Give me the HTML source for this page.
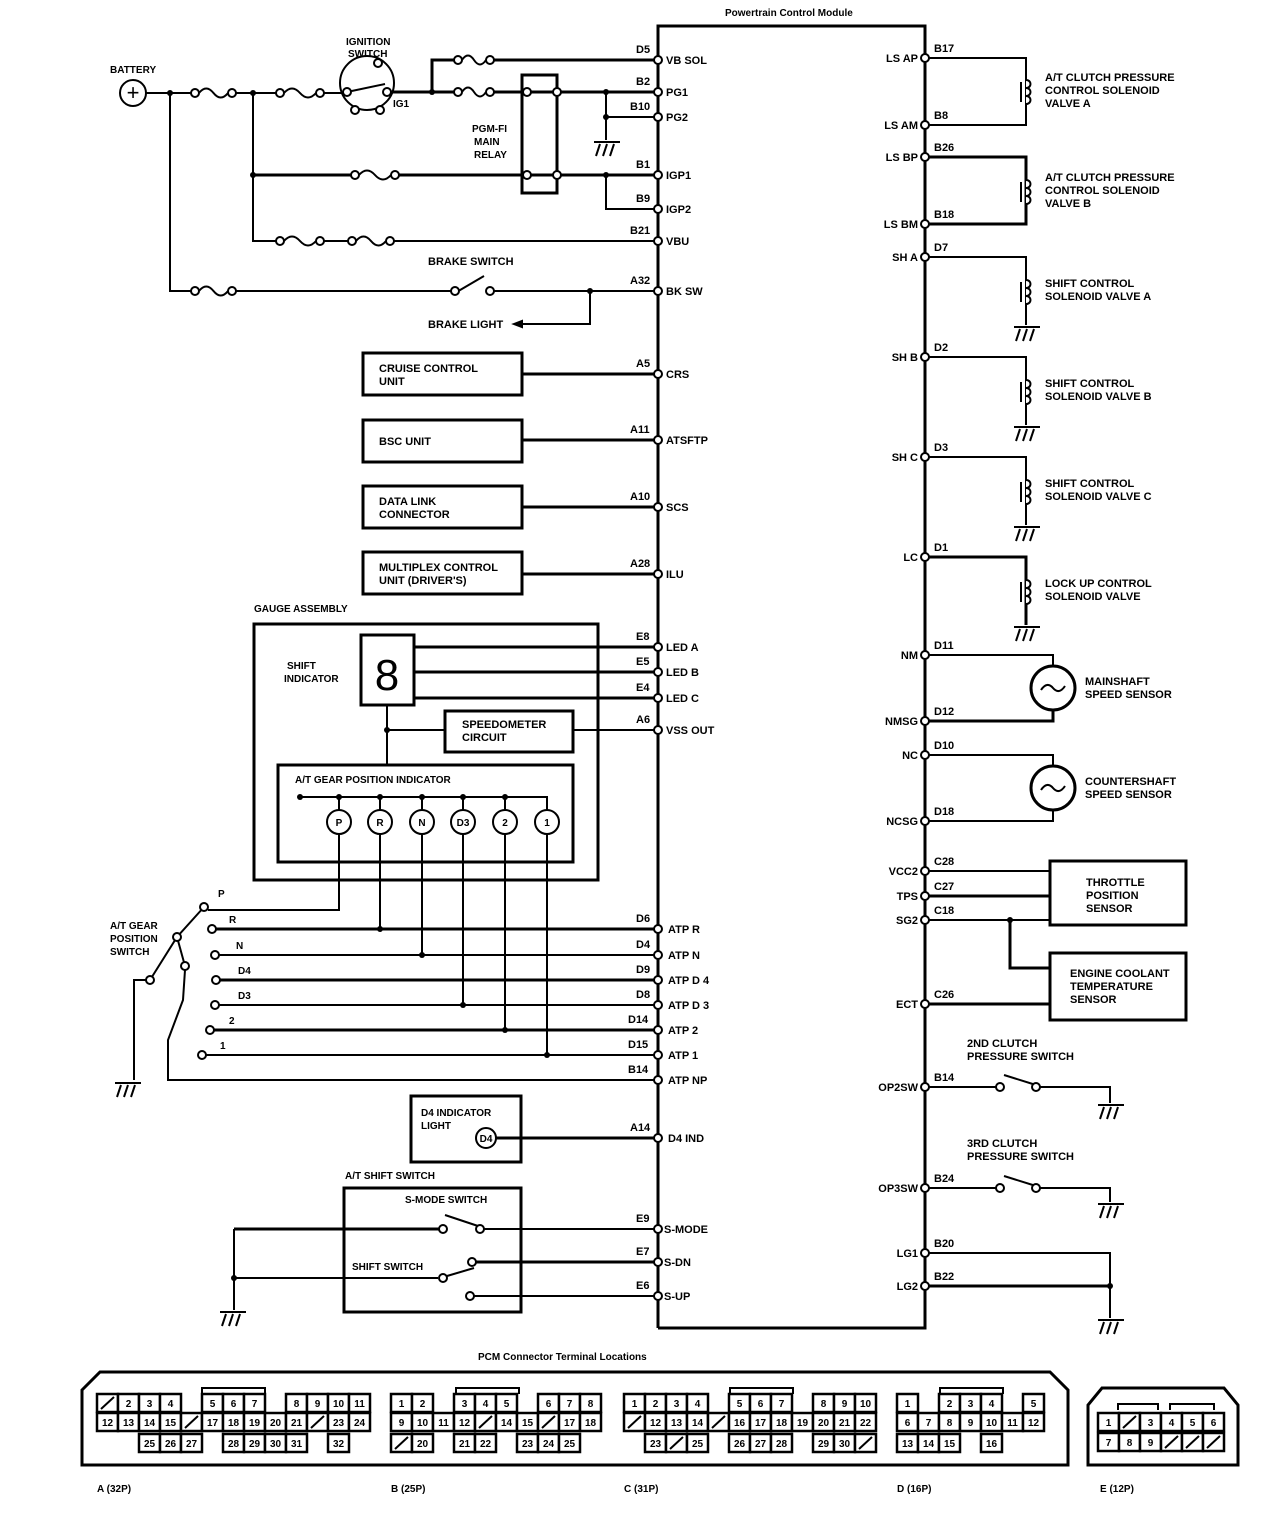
<!DOCTYPE html>
<html><head><meta charset="utf-8"><style>
body{margin:0;background:#fff}
svg{display:block}
text{font-family:"Liberation Sans",sans-serif;font-size:11px;font-weight:bold;fill:#000}
.s{font-size:10px}
</style></head><body>
<svg id="d" width="1280" height="1514" viewBox="0 0 1280 1514" xmlns="http://www.w3.org/2000/svg" fill="none" stroke="#000" stroke-width="2">
<!-- PCM -->
<text x="725" y="16" class="s" stroke="none">Powertrain Control Module</text>
<polyline points="658,1328 658,26 925,26 925,1328 658,1328" stroke-width="3"/>
<!-- indicator circles (static, below text) -->
<circle cx="339" cy="822" r="12" fill="#fff"/><circle cx="380" cy="822" r="12" fill="#fff"/>
<circle cx="422" cy="822" r="12" fill="#fff"/><circle cx="463" cy="822" r="12" fill="#fff"/>
<circle cx="505" cy="822" r="12" fill="#fff"/><circle cx="547" cy="822" r="12" fill="#fff"/>
<line x1="496" y1="1138" x2="656" y2="1138" stroke-width="3"/>
<circle cx="486" cy="1138" r="10" fill="#fff"/>
<!-- left pin labels -->
<g stroke="none">
<text x="666" y="64">VB SOL</text><text x="666" y="96">PG1</text><text x="666" y="121">PG2</text>
<text x="666" y="179">IGP1</text><text x="666" y="213">IGP2</text><text x="666" y="245">VBU</text>
<text x="666" y="295">BK SW</text><text x="666" y="378">CRS</text><text x="666" y="444">ATSFTP</text>
<text x="666" y="511">SCS</text><text x="666" y="578">ILU</text><text x="666" y="651">LED A</text>
<text x="666" y="676">LED B</text><text x="666" y="702">LED C</text><text x="666" y="734">VSS OUT</text>
<text x="668" y="933">ATP R</text><text x="668" y="959">ATP N</text><text x="668" y="984">ATP D 4</text>
<text x="668" y="1009">ATP D 3</text><text x="668" y="1034">ATP 2</text><text x="668" y="1059">ATP 1</text>
<text x="668" y="1084">ATP NP</text><text x="668" y="1142">D4 IND</text><text x="664" y="1233">S-MODE</text>
<text x="664" y="1266">S-DN</text><text x="664" y="1300">S-UP</text>
<text x="636" y="53">D5</text><text x="636" y="85">B2</text><text x="630" y="110">B10</text>
<text x="636" y="168">B1</text><text x="636" y="202">B9</text><text x="630" y="234">B21</text>
<text x="630" y="284">A32</text><text x="636" y="367">A5</text><text x="630" y="433">A11</text>
<text x="630" y="500">A10</text><text x="630" y="567">A28</text><text x="636" y="640">E8</text>
<text x="636" y="665">E5</text><text x="636" y="691">E4</text><text x="636" y="723">A6</text>
<text x="636" y="922">D6</text><text x="636" y="948">D4</text><text x="636" y="973">D9</text>
<text x="636" y="998">D8</text><text x="628" y="1023">D14</text><text x="628" y="1048">D15</text>
<text x="628" y="1073">B14</text><text x="630" y="1131">A14</text><text x="636" y="1222">E9</text>
<text x="636" y="1255">E7</text><text x="636" y="1289">E6</text>
<g text-anchor="end">
<text x="918" y="62">LS AP</text><text x="918" y="129">LS AM</text><text x="918" y="161">LS BP</text>
<text x="918" y="228">LS BM</text><text x="918" y="261">SH A</text><text x="918" y="361">SH B</text>
<text x="918" y="461">SH C</text><text x="918" y="561">LC</text><text x="918" y="659">NM</text>
<text x="918" y="725">NMSG</text><text x="918" y="759">NC</text><text x="918" y="825">NCSG</text>
<text x="918" y="875">VCC2</text><text x="918" y="900">TPS</text><text x="918" y="924">SG2</text>
<text x="918" y="1008">ECT</text><text x="918" y="1091">OP2SW</text><text x="918" y="1192">OP3SW</text>
<text x="918" y="1257">LG1</text><text x="918" y="1290">LG2</text></g>
<text x="934" y="52">B17</text><text x="934" y="119">B8</text><text x="934" y="151">B26</text>
<text x="934" y="218">B18</text><text x="934" y="251">D7</text><text x="934" y="351">D2</text>
<text x="934" y="451">D3</text><text x="934" y="551">D1</text><text x="934" y="649">D11</text>
<text x="934" y="715">D12</text><text x="934" y="749">D10</text><text x="934" y="815">D18</text>
<text x="934" y="865">C28</text><text x="934" y="890">C27</text><text x="934" y="914">C18</text>
<text x="934" y="998">C26</text><text x="934" y="1081">B14</text><text x="934" y="1182">B24</text>
<text x="934" y="1247">B20</text><text x="934" y="1280">B22</text>
<text x="1045" y="81">A/T CLUTCH PRESSURE</text><text x="1045" y="94">CONTROL SOLENOID</text><text x="1045" y="107">VALVE A</text>
<text x="1045" y="181">A/T CLUTCH PRESSURE</text><text x="1045" y="194">CONTROL SOLENOID</text><text x="1045" y="207">VALVE B</text>
<text x="1045" y="287">SHIFT CONTROL</text><text x="1045" y="300">SOLENOID VALVE A</text>
<text x="1045" y="387">SHIFT CONTROL</text><text x="1045" y="400">SOLENOID VALVE B</text>
<text x="1045" y="487">SHIFT CONTROL</text><text x="1045" y="500">SOLENOID VALVE C</text>
<text x="1045" y="587">LOCK UP CONTROL</text><text x="1045" y="600">SOLENOID VALVE</text>
<text x="1085" y="685">MAINSHAFT</text><text x="1085" y="698">SPEED SENSOR</text>
<text x="1085" y="785">COUNTERSHAFT</text><text x="1085" y="798">SPEED SENSOR</text>
<text x="1086" y="886">THROTTLE</text><text x="1086" y="899">POSITION</text><text x="1086" y="912">SENSOR</text>
<text x="1070" y="977">ENGINE COOLANT</text><text x="1070" y="990">TEMPERATURE</text><text x="1070" y="1003">SENSOR</text>
<text x="967" y="1047">2ND CLUTCH</text><text x="967" y="1060">PRESSURE SWITCH</text>
<text x="967" y="1147">3RD CLUTCH</text><text x="967" y="1160">PRESSURE SWITCH</text>
<text x="110" y="73" class="s">BATTERY</text>
<text x="346" y="45" class="s">IGNITION</text><text x="348" y="57" class="s">SWITCH</text>
<text x="393" y="107" class="s">IG1</text>
<text x="472" y="132" class="s">PGM-FI</text><text x="474" y="145" class="s">MAIN</text><text x="474" y="158" class="s">RELAY</text>
<text x="428" y="265">BRAKE SWITCH</text><text x="428" y="328">BRAKE LIGHT</text>
<text x="379" y="372">CRUISE CONTROL</text><text x="379" y="385">UNIT</text>
<text x="379" y="445">BSC UNIT</text>
<text x="379" y="505">DATA LINK</text><text x="379" y="518">CONNECTOR</text>
<text x="379" y="571">MULTIPLEX CONTROL</text><text x="379" y="584">UNIT (DRIVER'S)</text>
<text x="254" y="612" class="s">GAUGE ASSEMBLY</text>
<text x="287" y="669" class="s">SHIFT</text><text x="284" y="682" class="s">INDICATOR</text>
<text x="462" y="728">SPEEDOMETER</text><text x="462" y="741">CIRCUIT</text>
<text x="295" y="783" class="s">A/T GEAR POSITION  INDICATOR</text>
<text x="110" y="929" class="s">A/T GEAR</text><text x="110" y="942" class="s">POSITION</text><text x="110" y="955" class="s">SWITCH</text>
<text x="218" y="897" class="s">P</text><text x="229" y="923" class="s">R</text><text x="236" y="949" class="s">N</text>
<text x="238" y="974" class="s">D4</text><text x="238" y="999" class="s">D3</text><text x="229" y="1024" class="s">2</text><text x="220" y="1049" class="s">1</text>
<text x="421" y="1116" class="s">D4 INDICATOR</text><text x="421" y="1129" class="s">LIGHT</text>
<text x="345" y="1179" class="s">A/T SHIFT SWITCH</text>
<text x="405" y="1203" class="s">S-MODE SWITCH</text>
<text x="352" y="1270" class="s">SHIFT SWITCH</text>
<text x="478" y="1360" class="s">PCM Connector Terminal Locations</text>
<text x="97" y="1492" class="s">A (32P)</text><text x="391" y="1492" class="s">B (25P)</text>
<text x="624" y="1492" class="s">C (31P)</text><text x="897" y="1492" class="s">D (16P)</text><text x="1100" y="1492" class="s">E (12P)</text>
<text x="339" y="826" class="s" text-anchor="middle">P</text><text x="380" y="826" class="s" text-anchor="middle">R</text>
<text x="422" y="826" class="s" text-anchor="middle">N</text><text x="463" y="826" class="s" text-anchor="middle">D3</text>
<text x="505" y="826" class="s" text-anchor="middle">2</text><text x="547" y="826" class="s" text-anchor="middle">1</text>
<text x="486" y="1142" class="s" text-anchor="middle">D4</text>
<text x="387" y="690" style="font-size:44px;font-weight:normal" text-anchor="middle">8</text>
<text x="133" y="100" style="font-size:22px;font-weight:normal" text-anchor="middle">+</text>
</g>
<!-- left wiring -->
<circle cx="133" cy="93" r="13"/>
<polyline points="146,93 345,93"/>
<polyline points="170,93 170,291 455,291"/>
<polyline points="490,291 656,291"/>
<polyline points="590,291 590,324 516,324"/><polygon points="514,324 522,321 522,327" fill="#000"/>
<line x1="455" y1="293" x2="484" y2="276"/>
<polyline points="253,93 253,241 656,241"/>
<line x1="253" y1="175" x2="656" y2="175" stroke-width="3"/>
<circle cx="367" cy="83" r="27"/><line x1="347" y1="92" x2="385" y2="84"/>
<line x1="389" y1="92" x2="656" y2="92" stroke-width="3"/>
<polyline points="432,92 432,60 656,60" stroke-width="3"/>
<rect x="522" y="75" width="35" height="118" stroke-width="3"/>
<polyline points="606,92 606,140"/><polyline points="606,117 656,117"/>
<polyline points="606,175 606,209 656,209"/>
<g stroke-width="3">
<rect x="363" y="353" width="159" height="42"/><rect x="363" y="420" width="159" height="42"/>
<rect x="363" y="486" width="159" height="42"/><rect x="363" y="552" width="159" height="42"/>
<line x1="522" y1="374" x2="656" y2="374"/><line x1="522" y1="440" x2="656" y2="440"/>
<line x1="522" y1="507" x2="656" y2="507"/><line x1="522" y1="574" x2="656" y2="574"/>
<rect x="254" y="624" width="344" height="256"/>
<rect x="361" y="635" width="53" height="70"/>
<line x1="414" y1="647" x2="656" y2="647"/><line x1="414" y1="672" x2="656" y2="672"/><line x1="414" y1="698" x2="656" y2="698"/>
<rect x="445" y="711" width="128" height="41"/>
<rect x="278" y="765" width="295" height="97"/>
<rect x="411" y="1096" width="110" height="66"/>
<rect x="344" y="1188" width="177" height="124"/>
<rect x="1050" y="861" width="136" height="64"/><rect x="1050" y="953" width="136" height="67"/>
</g>
<polyline points="387,705 387,765"/><line x1="387" y1="730" x2="445" y2="730"/><line x1="573" y1="730" x2="656" y2="730"/>
<polyline points="300,797 547,797 547,810"/>
<g stroke-width="3">
<line x1="212" y1="929" x2="656" y2="929"/><line x1="216" y1="980" x2="656" y2="980"/>
<line x1="210" y1="1030" x2="656" y2="1030"/>
</g>
<line x1="215" y1="955" x2="656" y2="955"/><line x1="215" y1="1005" x2="656" y2="1005"/>
<line x1="202" y1="1055" x2="656" y2="1055"/>
<polyline points="339,834 339,910 208,910"/>
<line x1="380" y1="834" x2="380" y2="929"/><line x1="422" y1="834" x2="422" y2="955"/>
<line x1="463" y1="834" x2="463" y2="1005"/><line x1="505" y1="834" x2="505" y2="1030"/><line x1="547" y1="834" x2="547" y2="1055"/>
<polyline points="204,907 177,937 150,980"/><polyline points="177,937 185,966"/>
<polyline points="185,970 183,1000 168,1040 168,1080 656,1080"/>
<polyline points="146,980 134,980 134,1080"/>
<polyline points="656,1229 484,1229"/><line x1="439" y1="1229" x2="234" y2="1229" stroke-width="3"/>
<line x1="445" y1="1215" x2="478" y2="1226"/>
<polyline points="234,1229 234,1310"/><line x1="234" y1="1278" x2="438" y2="1278"/>
<line x1="447" y1="1276" x2="474" y2="1268"/>
<line x1="476" y1="1262" x2="656" y2="1262" stroke-width="3"/><line x1="474" y1="1296" x2="656" y2="1296"/>
<!-- right wiring -->
<polyline points="925,58 1026,58 1026,125 925,125"/>
<polyline points="925,157 1026,157 1026,224 925,224" stroke-width="3"/>
<polyline points="925,257 1026,257 1026,325"/><polyline points="925,357 1026,357 1026,425"/>
<polyline points="925,457 1026,457 1026,525"/><polyline points="925,557 1026,557 1026,625" stroke-width="3"/>
<circle cx="1053" cy="688" r="22" stroke-width="3"/><circle cx="1053" cy="788" r="22" stroke-width="3"/>
<path d="M1041,690 q6,-9 12,-2 t12,-2"/><path d="M1041,790 q6,-9 12,-2 t12,-2"/>
<polyline points="925,655 1053,655 1053,666"/><polyline points="1053,710 1053,721 925,721" stroke-width="3"/>
<polyline points="925,755 1053,755 1053,766"/><polyline points="1053,810 1053,821 925,821"/>
<line x1="925" y1="871" x2="1050" y2="871"/><line x1="925" y1="896" x2="1050" y2="896" stroke-width="3"/>
<line x1="925" y1="920" x2="1050" y2="920"/><polyline points="1010,920 1010,968 1050,968" stroke-width="3"/>
<line x1="925" y1="1004" x2="1050" y2="1004" stroke-width="3"/>
<polyline points="925,1087 996,1087"/><polyline points="1040,1087 1110,1087 1110,1103"/><line x1="1004" y1="1075" x2="1036" y2="1085"/>
<polyline points="925,1188 996,1188"/><polyline points="1040,1188 1110,1188 1110,1202"/><line x1="1004" y1="1176" x2="1036" y2="1186"/>
<polyline points="925,1253 1110,1253 1110,1318"/><line x1="925" y1="1286" x2="1110" y2="1286" stroke-width="3"/>
<path d="M82,1390 L100,1372 L1050,1372 L1068,1390 L1068,1465 L82,1465 Z" stroke-width="3"/>
<path d="M1088,1465 L1088,1405 L1102,1388 L1224,1388 L1238,1405 L1238,1465 Z" stroke-width="3"/>
<g id="cells"></g>
</svg>
<script>
var NS="http://www.w3.org/2000/svg",svg=document.getElementById('d');
function el(t,a,p){var e=document.createElementNS(NS,t);for(var k in a)e.setAttribute(k,a[k]);(p||svg).appendChild(e);return e}
function pin(x,y){el('circle',{cx:x,cy:y,r:4,fill:'#fff','stroke-width':2})}
function dot(x,y){el('circle',{cx:x,cy:y,r:3,fill:'#000',stroke:'none'})}
function oc(x,y){el('circle',{cx:x,cy:y,r:4,fill:'#fff','stroke-width':2})}
function fuse(a,b,y){el('rect',{x:a+4,y:y-3,width:b-a-8,height:6,fill:'#fff',stroke:'none'});var m=(a+b)/2;el('path',{d:'M'+(a+4)+','+y+' Q'+(a+(m-a)/2+2)+','+(y-9)+' '+m+','+y+' T'+(b-4)+','+y});oc(a,y);oc(b,y)}
function gnd(x,y){el('line',{x1:x-12,y1:y,x2:x+14,y2:y});for(var i=0;i<3;i++)el('line',{x1:x-6+i*7,y1:y+2,x2:x-10+i*7,y2:y+14})}
function coil(x,y){el('path',{d:'M'+x+','+y+' c6,0 6,8 0,8 c6,0 6,8 0,8 c6,0 6,8 0,8','fill':'#fff'});el('line',{x1:x-5,y1:y+2,x2:x-5,y2:y+22})}
fuse(195,232,93);fuse(280,320,93);fuse(458,490,60);fuse(458,490,92);fuse(355,395,175);fuse(280,320,241);fuse(352,390,241);fuse(195,232,291);
oc(347,92);oc(387,92);oc(378,63);oc(355,110);oc(380,110);oc(455,291);oc(490,291);
[527,557].forEach(function(x){oc(x,92);oc(x,175)});
[[170,93],[253,93],[432,92],[606,92],[606,117],[253,175],[606,175],[590,291],[387,730],[380,929],[422,955],[463,1005],[505,1030],[547,1055],[234,1278],[1010,920],[1110,1286]].forEach(function(p){dot(p[0],p[1])});
[300,339,380,422,463,505].forEach(function(x){dot(x,797);if(x>300)el('line',{x1:x,y1:797,x2:x,y2:810})});
[[204,907],[212,929],[215,955],[216,980],[215,1005],[210,1030],[202,1055],[177,937],[150,980],[185,966]].forEach(function(p){oc(p[0],p[1])});
[[443,1229],[480,1229],[443,1278],[472,1262],[470,1296],[1000,1087],[1036,1087],[1000,1188],[1036,1188]].forEach(function(p){oc(p[0],p[1])});
gnd(606,142);gnd(127,1083);gnd(232,1312);gnd(1026,327);gnd(1026,427);gnd(1026,527);gnd(1026,627);gnd(1110,1105);gnd(1110,1204);gnd(1110,1320);
[80,180,280,380,480,580].forEach(function(y){coil(1026,y)});
[60,92,117,175,209,241,291,374,440,507,574,647,672,698,730,929,955,980,1005,1030,1055,1080,1138,1229,1262,1296].forEach(function(y){pin(658,y)});
[58,125,157,224,257,357,457,557,655,721,755,821,871,896,920,1004,1087,1188,1253,1286].forEach(function(y){pin(925,y)});
var c=document.getElementById('cells');
function conn(x0,w,rows,ys){rows.forEach(function(r,ri){r.forEach(function(v,ci){if(v===0)return;var x=x0+ci*w,y=ys[ri];el('rect',{x:x,y:y,width:w,height:18,'stroke-width':2.5,fill:'#fff'},c);
if(v==='/')el('line',{x1:x+4,y1:y+15,x2:x+w-4,y2:y+3},c);else{var t=el('text',{x:x+w/2,y:y+13,'text-anchor':'middle',class:'s',stroke:'none'},c);t.textContent=v}})})}
var Y=[1394,1413,1434];
conn(97,21,[['/',2,3,4,0,5,6,7,0,8,9,10,11],[12,13,14,15,'/',17,18,19,20,21,'/',23,24],[0,0,25,26,27,0,28,29,30,31,0,32,0]],Y);
conn(391,21,[[1,2,0,3,4,5,0,6,7,8],[9,10,11,12,'/',14,15,'/',17,18],['/',20,0,21,22,0,23,24,25,0]],Y);
conn(624,21,[[1,2,3,4,0,5,6,7,0,8,9,10],['/',12,13,14,'/',16,17,18,19,20,21,22],[0,23,'/',25,0,26,27,28,0,29,30,'/']],Y);
conn(897,21,[[1,0,2,3,4,0,5],[6,7,8,9,10,11,12],[13,14,15,0,16,0,0]],Y);
conn(1098,21,[[1,'/',3,4,5,6],[7,8,9,'/','/','/']],[1413,1433]);
[[202,1388,265],[456,1388,519],[730,1388,793],[940,1388,1003],[1118,1404,1158],[1170,1404,1214]].forEach(function(b){el('polyline',{points:b[0]+','+(b[1]+6)+' '+b[0]+','+b[1]+' '+b[2]+','+b[1]+' '+b[2]+','+(b[1]+6),'stroke-width':2},c)});
</script>
</body></html>
